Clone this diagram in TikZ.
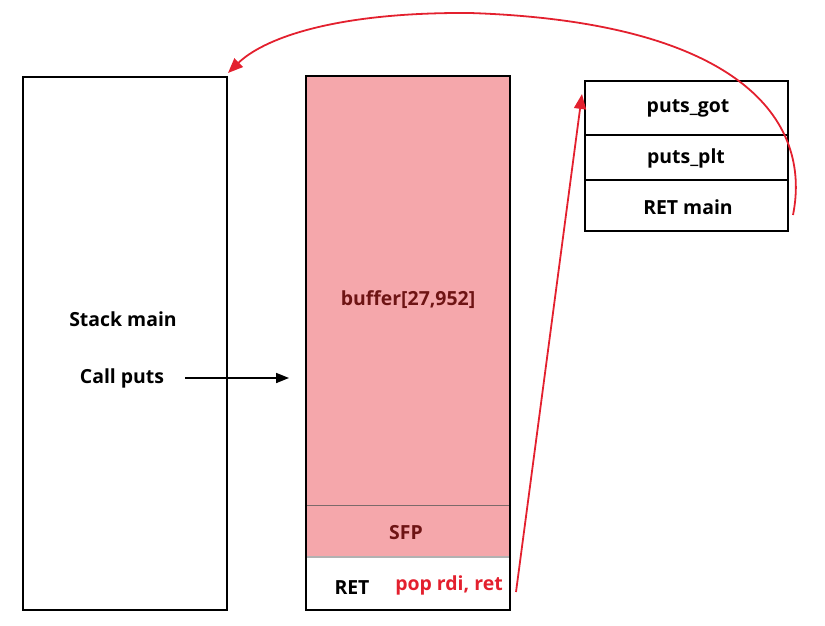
\documentclass[tikz,border=0pt]{standalone}
\usepackage{fontspec}
\setmainfont{Open Sans}
\usetikzlibrary{arrows.meta}
\definecolor{pinkfill}{HTML}{F5A7AB}
\definecolor{darkred}{HTML}{6E1414}
\definecolor{arrred}{HTML}{E3202E}
\tikzset{
  box/.style={draw=black, line width=2pt},
  lbl/.style={font=\fontsize{19.5}{22}\selectfont\bfseries, text=black, inner sep=0pt},
  rlbl/.style={font=\fontsize{19.5}{22}\selectfont\bfseries, text=darkred, inner sep=0pt},
  redarr/.style={draw=arrred, line width=1.8pt, -{Triangle[length=15pt,width=12pt]}},
}
\begin{document}
\begin{tikzpicture}[x=1bp,y=-1bp]
\useasboundingbox (0,0) rectangle (825,626);
% left box
\draw[box] (23,77) rectangle (227,610);
\node[lbl] (stack) at (123,319) {Stack main};
\node[lbl] (call) at (122,378) {Call puts};
% middle box
\fill[pinkfill] (307,77) rectangle (509,557);
\draw[draw=gray!80!darkred, line width=1pt] (307,505) -- (509,505);
\draw[draw=gray!60, line width=1.2pt] (307,557) -- (509,557);
\draw[box] (306,76) rectangle (510,610);
\node[rlbl] (buf) at (408,300) {buffer[27,952]};
\node[rlbl] (sfp) at (406,533) {SFP};
\node[lbl] (ret) at (352,588) {RET};
\node[lbl, text=arrred] (pop) at (449,585) {pop rdi, ret};
% right box
\draw[box] (585,81) rectangle (788,231);
\draw[line width=1.6pt] (585,135) -- (788,135);
\draw[line width=1.6pt] (585,180) -- (788,180);
\node[lbl] (got) at (688,108) {puts\_got};
\node[lbl] (plt) at (686,158) {puts\_plt};
\node[lbl] (retm) at (688,207) {RET main};
\coordinate (rtop) at (582,94);
\coordinate (ltop) at (228,73);
\coordinate (cstart) at (793,215);
\coordinate (apex) at (470,13);
\coordinate (cs) at (185,378);
\coordinate (ce) at (289,378);
\coordinate (ps) at (516,592);
% arrows
\draw[-{Triangle[length=13pt,width=10pt]}, line width=1.8pt] (cs) -- (ce);
\draw[redarr] (ps) -- (rtop);
\draw[redarr] (cstart) .. controls (812,120) and (740,22) .. (apex) .. controls (330,12) and (262,40) .. (ltop);
\end{tikzpicture}
\end{document}
